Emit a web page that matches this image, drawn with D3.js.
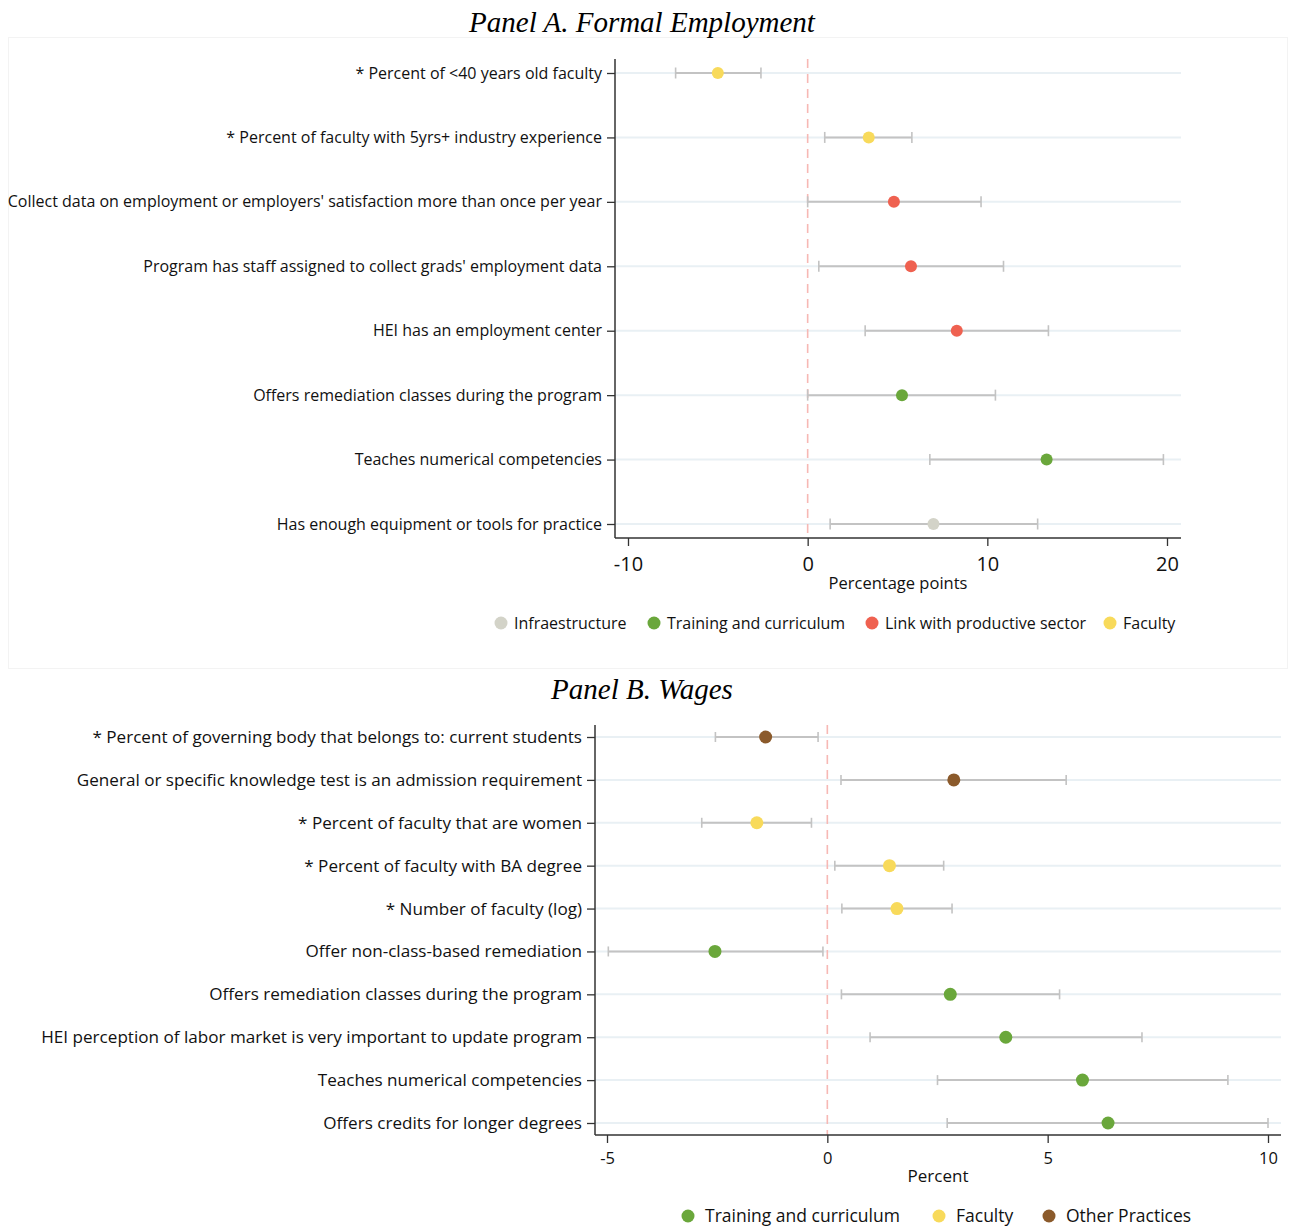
<!DOCTYPE html>
<html>
<head>
<meta charset="utf-8">
<script src="https://cdn.jsdelivr.net/npm/d3@7"></script>
<style>
  body { margin: 0; background: #fff; }
  svg { display: block; }
</style>
</head>
<body>
<svg id="chart" width="1298" height="1226"></svg>
<script>
// ---------- Panel A: Formal employment ----------
const labelsA = [
  "* Percent of <40 years old faculty",
  "* Percent of faculty with 5yrs+ industry experience",
  "Collect data on employment or employers' satisfaction more than once per year",
  "Program has staff assigned to collect grads' employment data",
  "HEI has an employment center",
  "Offers remediation classes during the program",
  "Teaches numerical competencies",
  "Has enough equipment or tools for practice"
];
const estA  = [-5.0, 3.4, 4.8, 5.75, 8.3, 5.25, 13.3, 7.0];
const lowA  = [-7.35, 0.95, 0.0, 0.62, 3.2, 0.0, 6.8, 1.25];
const highA = [-2.6, 5.8, 9.65, 10.9, 13.4, 10.45, 19.8, 12.8];
const groupA = ["Faculty", "Faculty", "Link with productive sector", "Link with productive sector",
                "Link with productive sector", "Training and curriculum", "Training and curriculum",
                "Infraestructure"];
const ticksA = [-10, 0, 10, 20];
const legendA = ["Infraestructure", "Training and curriculum", "Link with productive sector", "Faculty"];

// ---------- Panel B: Wages ----------
const labelsB = [
  "* Percent of governing body that belongs to: current students",
  "General or specific knowledge test is an admission requirement",
  "* Percent of faculty that are women",
  "* Percent of faculty with BA degree",
  "* Number of faculty (log)",
  "Offer non-class-based remediation",
  "Offers remediation classes during the program",
  "HEI perception of labor market is very important to update program",
  "Teaches numerical competencies",
  "Offers credits for longer degrees"
];
const estB  = [-1.4, 2.87, -1.6, 1.41, 1.58, -2.55, 2.79, 4.05, 5.79, 6.37];
const lowB  = [-2.54, 0.31, -2.85, 0.17, 0.33, -4.97, 0.32, 0.97, 2.5, 2.72];
const highB = [-0.21, 5.42, -0.36, 2.64, 2.83, -0.1, 5.27, 7.14, 9.09, 10.0];
const groupB = ["Other Practices", "Other Practices", "Faculty", "Faculty", "Faculty",
                "Training and curriculum", "Training and curriculum", "Training and curriculum",
                "Training and curriculum", "Training and curriculum"];
const ticksB = [-5, 0, 5, 10];
const legendB = ["Training and curriculum", "Faculty", "Other Practices"];

const colors = {
  "Infraestructure": "#d3d3c8",
  "Training and curriculum": "#6aa73b",
  "Link with productive sector": "#ef6150",
  "Faculty": "#f8da5b",
  "Other Practices": "#8b5a2b"
};

const SANS = "'Open Sans', 'Noto Sans', sans-serif";
const svg = d3.select("#chart");

function panel(cfg) {
  const g = svg.append("g");
  const rows = cfg.labels.map((l, i) => ({label: l, est: cfg.est[i], lo: cfg.low[i], hi: cfg.high[i], grp: cfg.group[i]}));

  const x = d3.scaleLinear().domain(cfg.domain).range(cfg.xRange);
  const y = d3.scalePoint().domain(cfg.labels).range(cfg.yRows);

  // panel title
  g.append("text")
    .attr("x", cfg.titleX).attr("y", cfg.titleY)
    .attr("text-anchor", "middle")
    .style("font-family", "'Liberation Serif', 'Times New Roman', serif")
    .style("font-style", "italic")
    .style("font-size", "29px")
    .text(cfg.title);

  // horizontal row guides
  g.selectAll(".guide").data(rows).join("line")
    .attr("x1", cfg.axisX).attr("x2", cfg.plotRight)
    .attr("y1", d => y(d.label)).attr("y2", d => y(d.label))
    .attr("stroke", "#e9f0f4").attr("stroke-width", 2);

  // zero reference line
  g.append("line")
    .attr("x1", x(0)).attr("x2", x(0))
    .attr("y1", cfg.axisTop).attr("y2", cfg.axisBottom)
    .attr("stroke", "#f7b8b4").attr("stroke-width", 1.6)
    .attr("stroke-dasharray", "9,6");

  // y axis
  const yAxis = d3.axisLeft(y).tickSize(8).tickPadding(5);
  const ya = g.append("g").attr("transform", `translate(${cfg.axisX},0)`).call(yAxis);
  ya.select(".domain").remove();
  ya.selectAll(".tick line").attr("stroke", "#333").attr("stroke-width", 1.3);
  ya.selectAll(".tick text")
    .style("font-family", SANS).style("font-size", cfg.labelSize + "px")
    .attr("fill", "#111");
  g.append("line")
    .attr("x1", cfg.axisX).attr("x2", cfg.axisX)
    .attr("y1", cfg.axisTop).attr("y2", cfg.axisBottom)
    .attr("stroke", "#333").attr("stroke-width", 1.5);

  // x axis (plain hyphen for negative tick labels)
  const xAxis = d3.axisBottom(x).tickValues(cfg.ticks).tickSize(8).tickPadding(cfg.tickPad).tickFormat(d => String(d));
  const xa = g.append("g").attr("transform", `translate(0,${cfg.axisBottom})`).call(xAxis);
  xa.select(".domain").remove();
  xa.selectAll(".tick line").attr("stroke", "#333").attr("stroke-width", 1.3);
  xa.selectAll(".tick text")
    .style("font-family", SANS).style("font-size", cfg.tickSize + "px")
    .attr("fill", "#111");
  g.append("line")
    .attr("x1", cfg.axisX).attr("x2", cfg.plotRight)
    .attr("y1", cfg.axisBottom).attr("y2", cfg.axisBottom)
    .attr("stroke", "#333").attr("stroke-width", 1.5);

  g.append("text")
    .attr("x", (cfg.axisX + cfg.plotRight) / 2).attr("y", cfg.xTitleY)
    .attr("text-anchor", "middle")
    .style("font-family", SANS).style("font-size", cfg.xTitleSize + "px")
    .attr("fill", "#111")
    .text(cfg.xTitle);

  // confidence intervals
  const ci = g.selectAll(".ci").data(rows).join("g");
  ci.append("line")
    .attr("x1", d => x(d.lo)).attr("x2", d => x(d.hi))
    .attr("y1", d => y(d.label)).attr("y2", d => y(d.label))
    .attr("stroke", "#c3c3c3").attr("stroke-width", 2);
  ci.append("line")
    .attr("x1", d => x(d.lo)).attr("x2", d => x(d.lo))
    .attr("y1", d => y(d.label) - cfg.cap).attr("y2", d => y(d.label) + cfg.cap)
    .attr("stroke", "#c3c3c3").attr("stroke-width", 1.6);
  ci.append("line")
    .attr("x1", d => x(d.hi)).attr("x2", d => x(d.hi))
    .attr("y1", d => y(d.label) - cfg.cap).attr("y2", d => y(d.label) + cfg.cap)
    .attr("stroke", "#c3c3c3").attr("stroke-width", 1.6);

  // point estimates
  g.selectAll(".pt").data(rows).join("circle")
    .attr("cx", d => x(d.est)).attr("cy", d => y(d.label))
    .attr("r", cfg.r)
    .attr("fill", d => colors[d.grp]);

  // legend
  const lg = g.append("g").attr("transform", `translate(0,${cfg.legendY})`);
  cfg.legend.forEach((name, i) => {
    const cx = cfg.legendX[i];
    lg.append("circle").attr("cx", cx).attr("cy", 0).attr("r", 6.5).attr("fill", colors[name]);
    lg.append("text").attr("x", cx + cfg.legendGap).attr("y", 0).attr("dy", "0.35em")
      .style("font-family", SANS).style("font-size", cfg.legendSize + "px")
      .attr("fill", "#111").text(name);
  });
}

// faint frame around the first panel
svg.append("rect")
  .attr("x", 8.5).attr("y", 37.5).attr("width", 1279).attr("height", 631)
  .attr("fill", "none").attr("stroke", "#f3f3f3");

panel({
  title: "Panel A. Formal Employment", titleX: 642, titleY: 32,
  labels: labelsA, est: estA, low: lowA, high: highA, group: groupA,
  domain: [-10, 20], xRange: [628, 1167], ticks: ticksA,
  yRows: [73, 524], axisX: 615, plotRight: 1181, axisTop: 59, axisBottom: 538,
  labelSize: 16, tickSize: 20, tickPad: 11, xTitle: "Percentage points", xTitleY: 589, xTitleSize: 16.5,
  cap: 5.5, r: 6,
  legend: legendA, legendX: [501, 654, 872, 1110], legendY: 623, legendSize: 16, legendGap: 13
});

panel({
  title: "Panel B. Wages", titleX: 642, titleY: 699,
  labels: labelsB, est: estB, low: lowB, high: highB, group: groupB,
  domain: [-5, 10], xRange: [607, 1268], ticks: ticksB,
  yRows: [737, 1123], axisX: 595, plotRight: 1281, axisTop: 725, axisBottom: 1135,
  labelSize: 17.1, tickSize: 16.5, tickPad: 9, xTitle: "Percent", xTitleY: 1182, xTitleSize: 17,
  cap: 5, r: 6.5,
  legend: legendB, legendX: [688, 939, 1049], legendY: 1216, legendSize: 17.5, legendGap: 17
});
</script>
</body>
</html>
